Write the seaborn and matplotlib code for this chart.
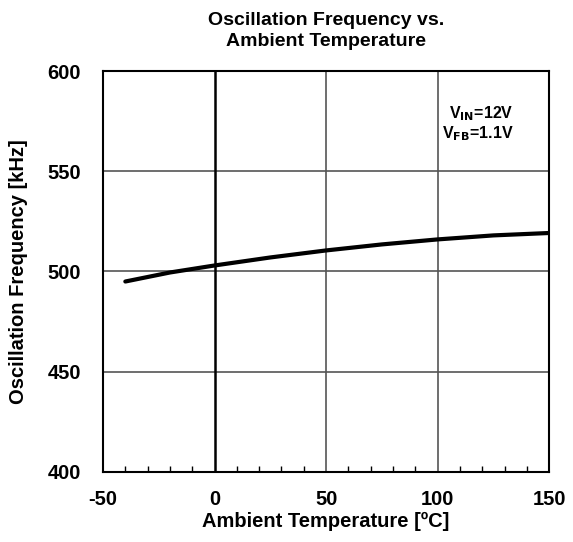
import numpy as np
import pandas as pd
import seaborn as sns
import matplotlib.pyplot as plt
from matplotlib.ticker import MultipleLocator

temp = [-40, -20, 0, 25, 50, 75, 100, 125, 150]
freq = [495.0, 499.5, 503.0, 507.0, 510.5, 513.5, 516.0, 518.0, 519.2]
df = pd.DataFrame({"temp": temp, "freq": freq})

sns.set_style("white")
plt.rcParams['font.family'] = ['Liberation Sans', 'DejaVu Sans']
plt.rcParams['font.weight'] = 'bold'
plt.rcParams['axes.unicode_minus'] = False
plt.rcParams['mathtext.default'] = 'bf'
plt.rcParams['text.color'] = 'black'
plt.rcParams['axes.labelcolor'] = 'black'
plt.rcParams['xtick.color'] = 'black'
plt.rcParams['ytick.color'] = 'black'

fig = plt.figure(figsize=(5.73, 5.42), dpi=100)
ax = fig.add_axes([0.1798, 0.1292, 0.7786, 0.7398])

# grid
for x in [50, 100]:
    ax.axvline(x, color='#555555', lw=1.2, zorder=1)
for y in [450, 500, 550]:
    ax.axhline(y, color='#555555', lw=1.2, zorder=1)
ax.axvline(0, color='black', lw=1.8, zorder=1)

sns.lineplot(data=df, x="temp", y="freq", ax=ax, color='black', lw=3, zorder=3)

ax.set_xlim(-50, 150)
ax.set_ylim(400, 600)
ax.xaxis.set_major_locator(MultipleLocator(50))
ax.xaxis.set_minor_locator(MultipleLocator(10))
ax.yaxis.set_major_locator(MultipleLocator(50))
ax.tick_params(axis='x', which='minor', direction='in', length=4, width=1, bottom=True)
ax.tick_params(axis='both', which='major', length=0, labelsize=14.5)
ax.tick_params(axis='x', which='major', pad=13)
ax.tick_params(axis='y', which='major', pad=16)
for s in ax.spines.values():
    s.set_color('black')
    s.set_linewidth(1.5)

ax.set_xlabel("Ambient Temperature [ºC]", fontsize=14.5, fontweight='bold', labelpad=2)
ax.set_ylabel("Oscillation Frequency [kHz]", fontsize=14.5, fontweight='bold', labelpad=14)
ax.set_title("Oscillation Frequency vs.\nAmbient Temperature", fontsize=14,
             fontweight='bold', pad=18, linespacing=1.3)

ax.text(0.92, 0.868, r"V$_{\mathbf{IN}}$=12V" + "\n" + r"V$_{\mathbf{FB}}$=1.1V",
        transform=ax.transAxes, ha='right', va='center', fontsize=11.5, fontweight='bold',
        linespacing=1.1)

fig.savefig("out.png", dpi=100)
